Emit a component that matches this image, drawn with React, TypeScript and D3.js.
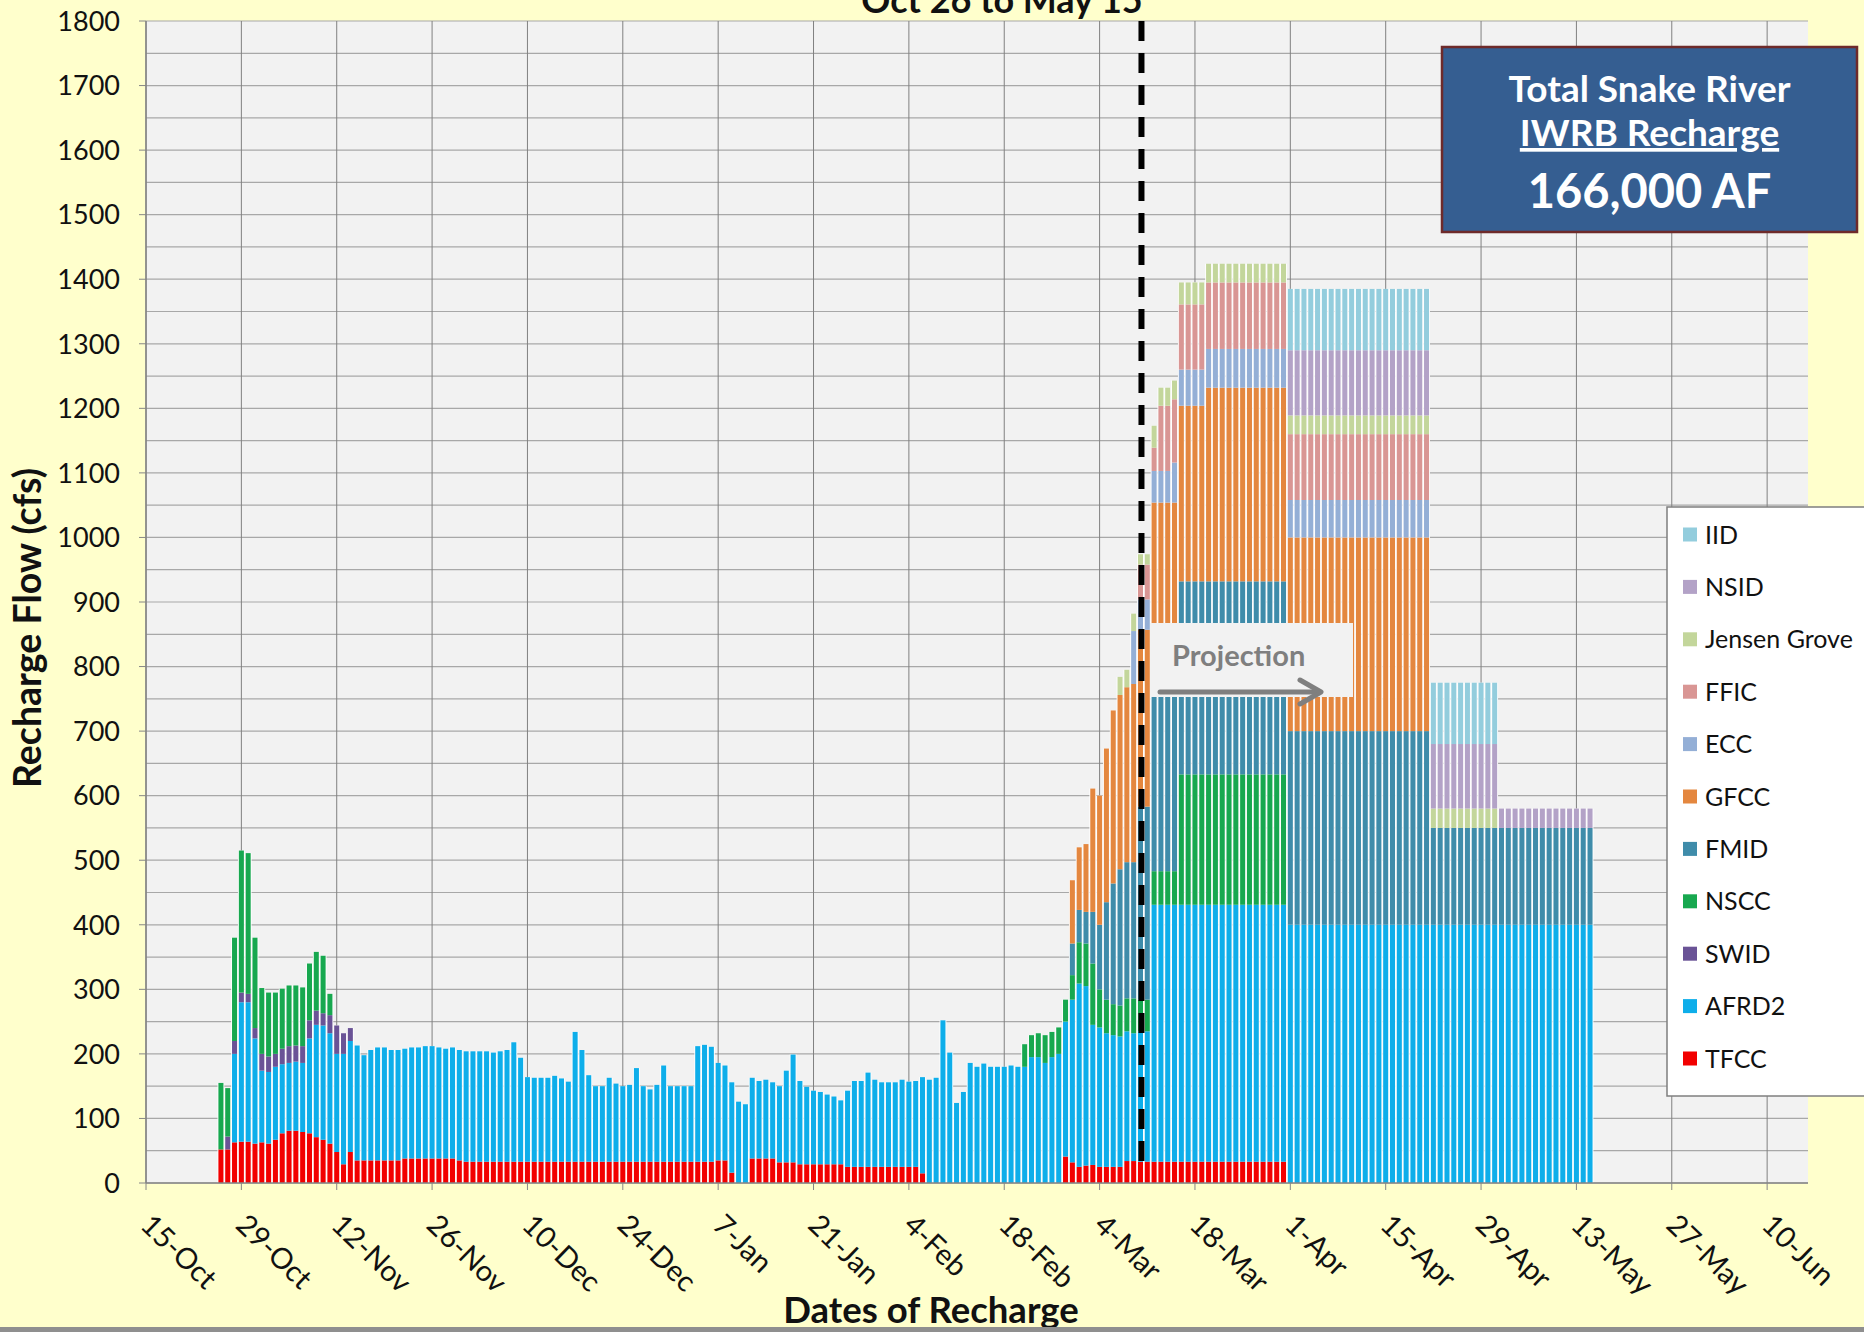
import React from 'react';
import * as d3 from 'd3';

// one entry per day starting 26-Oct; a plain number is one day, [days, value] is a run of equal days
type Run = number | [number, number];

const width = 1864;
const height = 1332;
const plotLeft = 146;
const plotRight = 1808;
const plotTop = 21;
const plotBottom = 1183;
const font = "Lato, 'Open Sans', sans-serif";

const firstDay = new Date(Date.UTC(2014, 9, 26));
const lastDay = new Date(Date.UTC(2015, 4, 15));
const axisStart = new Date(Date.UTC(2014, 9, 15));
const axisEnd = new Date(Date.UTC(2015, 5, 16));
const projectionDay = new Date(Date.UTC(2015, 2, 10));

const tickDates = [
  "2014-10-15", "2014-10-29", "2014-11-12", "2014-11-26", "2014-12-10", "2014-12-24",
  "2015-01-07", "2015-01-21", "2015-02-04", "2015-02-18", "2015-03-04", "2015-03-18",
  "2015-04-01", "2015-04-15", "2015-04-29", "2015-05-13", "2015-05-27", "2015-06-10",
];

const seriesNames = ["TFCC", "AFRD2", "SWID", "NSCC", "FMID", "GFCC", "ECC", "FFIC", "Jensen Grove", "NSID", "IID"];
const seriesColors = ["#F20000", "#0EAEEA", "#6A5396", "#17A84F", "#3F8CAA", "#E4873F", "#94AFD6", "#D99694", "#C3D69B", "#B3A2C7", "#93CDDD"];

const tfcc: Run[] = [52, 52, 63, 64, 64, 61, 63, 61, 67, 77, 81, 81, 79, 77, 71, 67, 61, 48, 29, 48,
  [7, 35], [8, 38], 35, [37, 33], [2, 35], 16, [2, 0], [4, 38], [3, 32], [7, 29], [11, 25], 15, [20, 0],
  41, 32, 25, 27, 28, [4, 25], [2, 34], [22, 33], [45, 0]];

const afrd2: Run[] = [0, 0, 137, 216, 216, 163, 111, 111, 113, 107, 105, 107, 107, 147, 174, 177, 171, 152, 171, 172,
  178, 163, 171, 175, 175, 171, 171,
  170, 172, 172, 174, 174, 172, 170, 172,
  171,
  171, 171, 171, 171, 169, 171, 173, 185, 161, 131, 130, 130, 130, 133,
  129, 124, 201, 173, 134, 117, 117, 130, 121, 117, 119, 145, 117, 112, 119, 149, 117,
  117, 117, 117, 179, 181, 178, 151, 147, 140, 126, 122, 125, 120, 122, 118, 118, 142, 167, 129, 120,
  114, 112, 108, 105, 99, 118, 133, 133, 146, 135, 131,
  131, 131, 135, 132, 133, 149, 160, 163, 252, 202, 124,
  141, 186, 180, 185, 180, 180, 180, 182, 180, 180, 195, 195, 186, 195, 200, 209, 252,
  284, 278, 217, 216, 207, 204, 202, 201, 198, 202, 202,
  [20, 398], [45, 400]];

const swid: Run[] = [0, 20, 20, 15, 13, 16, 26, 24, 20, 24, 26, 25, 26, 28, 22, 19, 28, 44, 32, 20, [182, 0]];

const nscc: Run[] = [103, 75, 160, 220, 218, 140, 102, 99, 95, 93, 94, 93, 91, 88, 91, 89, 33, [101, 0],
  35, 34, 37, 43, 39, 41, 34, 38, 64, 66, 95, 59, 52, 48, 48, 51, 54, 49, 49,
  [4, 52], [16, 202], [45, 0]];

const fmid: Run[] = [[125, 0], 49, 50, 49, 80, 100, 151, 187, 211, 211, 211, 299, 299,
  [4, 271], [16, 299], [21, 300], [24, 150]];

const gfcc: Run[] = [[125, 0], 98, 97, 105, 191, 200, 238, 268, 270, 271, 276, 274, 274,
  [4, 300], [4, 272], [12, 300], [21, 300], [24, 0]];

const ecc: Run[] = [[134, 0], 82, 47, 47, 49, 49, 49, 62, [4, 56], [12, 60], [21, 58], [24, 0]];

const ffic: Run[] = [[135, 0], 54, 54, 36, 101, 101, 98, [4, 101], [12, 103], [21, 102], [24, 0]];

const jensenGrove: Run[] = [[132, 0], 28, 27, 27, 16, 16, 34, 28, 28, 29, [4, 34], [12, 29], [21, 29], [10, 30], [14, 0]];

const nsid: Run[] = [[157, 0], [21, 101], [10, 100], [14, 30]];

const iid: Run[] = [[157, 0], [21, 95], [10, 95], [14, 0]];

const seriesRuns = [tfcc, afrd2, swid, nscc, fmid, gfcc, ecc, ffic, jensenGrove, nsid, iid];

const expand = (runs: Run[]): number[] => {
  const out: number[] = [];
  runs.forEach(r => {
    if (Array.isArray(r)) for (let k = 0; k < r[0]; k++) out.push(r[1]);
    else out.push(r);
  });
  return out;
};

const App: React.FC = () => {
  const dates = d3.utcDay.range(firstDay, d3.utcDay.offset(lastDay, 1));
  const daily = seriesRuns.map(expand);
  const rows = dates.map((date, i) => {
    const row: any = {date};
    seriesNames.forEach((name, s) => { row[name] = daily[s][i] || 0; });
    return row;
  });
  const stacked = d3.stack<any>().keys(seriesNames)(rows);

  const xScale = d3.scaleUtc().domain([axisStart, axisEnd]).range([plotLeft, plotRight]);
  const yScale = d3.scaleLinear().domain([0, 1800]).range([plotBottom, plotTop]);
  const dayW = xScale(d3.utcDay.offset(axisStart, 1)) - xScale(axisStart);
  const barW = dayW * 0.74;

  const yLabelTicks = yScale.ticks(18);
  const yGridTicks = yScale.ticks(36);
  const ticks = tickDates.map(s => d3.utcParse("%Y-%m-%d")(s) as Date);
  const fmt = d3.utcFormat("%-d-%b");
  const totals = rows.map(r => d3.sum(seriesNames, n => r[n]));
  const projX = xScale(projectionDay) + 1;

  const legendItems = seriesNames.map((n, i) => ({name: n, color: seriesColors[i]})).reverse();
  const boxCx = 1649.5;

  return (
    <svg width={width} height={height} style={{position: "absolute", left: 0, top: 0, fontFamily: font}}>
      <rect width={width} height={height} fill="#FFFFCC"/>
      <rect x={plotLeft} y={plotTop} width={plotRight - plotLeft} height={plotBottom - plotTop} fill="#F2F2F2"/>

      {yGridTicks.map(v => (
        <line key={"h" + v} x1={plotLeft} x2={plotRight} y1={yScale(v)} y2={yScale(v)} stroke="#A8A8A8" strokeWidth={1.2}/>
      ))}
      {ticks.map((d, i) => (
        <line key={"v" + i} x1={xScale(d)} x2={xScale(d)} y1={plotTop} y2={plotBottom} stroke="#808080" strokeWidth={1}/>
      ))}

      {/* white slots behind each day's column */}
      {rows.map((r, i) => (
        totals[i] > 0 &&
        <rect key={"u" + i} x={xScale(r.date) - dayW / 2} width={dayW} y={yScale(totals[i])}
          height={yScale(0) - yScale(totals[i])} fill="#FFFFFF"/>
      ))}
      {stacked.map((layer, s) => (
        <g key={layer.key} fill={seriesColors[s]}>
          {layer.map((d, i) => (
            d[1] - d[0] > 0 &&
            <rect key={i} x={xScale(d.data.date) - barW / 2} width={barW} y={yScale(d[1])}
              height={yScale(d[0]) - yScale(d[1])}/>
          ))}
        </g>
      ))}

      {/* axes */}
      <line x1={plotLeft} x2={plotRight} y1={plotBottom} y2={plotBottom} stroke="#868686" strokeWidth={1.5}/>
      <line x1={plotLeft} x2={plotLeft} y1={plotTop} y2={plotBottom} stroke="#868686" strokeWidth={1.5}/>
      {yLabelTicks.map(v => (
        <g key={"y" + v} transform={`translate(0, ${yScale(v)})`}>
          <line x1={plotLeft - 7} x2={plotLeft} stroke="#868686"/>
          <text x={120} dy="0.36em" textAnchor="end" fontSize={27} fill="#111">{v}</text>
        </g>
      ))}
      {ticks.map((d, i) => (
        <g key={"x" + i}>
          <line x1={xScale(d)} x2={xScale(d)} y1={plotBottom} y2={plotBottom + 7} stroke="#868686"/>
          <text transform={`translate(${xScale(d) - 7}, ${plotBottom + 44}) rotate(44)`} fontSize={29} fill="#111">{fmt(d)}</text>
        </g>
      ))}

      {/* projection divider */}
      <line x1={projX} x2={projX} y1={plotTop} y2={1172} stroke="#000" strokeWidth={6} strokeDasharray="20 12"/>

      <rect x={1150} y={623} width={203} height={74} fill="#F2F2F2"/>
      <text x={1172} y={666} fontSize={29} fontWeight="bold" fill="#7F7F7F">Projection</text>
      <g stroke="#7F7F7F" strokeWidth={5} fill="none" strokeLinecap="round">
        <line x1={1160} x2={1319} y1={692} y2={692}/>
        <polyline points="1300,680 1321,692 1300,704" strokeLinejoin="round"/>
      </g>

      {/* titles */}
      <text x={1002} y={12.5} textAnchor="middle" fontSize={36} fontWeight="bold" fill="#111">Oct 26 to May 15</text>
      <text transform="translate(41, 628) rotate(-90)" textAnchor="middle" fontSize={37.5} fontWeight="bold" fill="#111">Recharge Flow (cfs)</text>
      <text x={931} y={1323} textAnchor="middle" fontSize={36.5} fontWeight="bold" fill="#111">Dates of Recharge</text>

      {/* total box */}
      <rect x={1442} y={47} width={415} height={185} fill="#355E91" stroke="#6E2A2A" strokeWidth={2.5}/>
      <text x={boxCx} y={102} textAnchor="middle" fontSize={37} fontWeight="bold" fill="#FFFFFF">Total Snake River</text>
      <text x={boxCx} y={146} textAnchor="middle" fontSize={37} fontWeight="bold" fill="#FFFFFF" style={{textDecoration: "underline"}}>IWRB Recharge</text>
      <text x={boxCx} y={208} textAnchor="middle" fontSize={47} fontWeight="bold" fill="#FFFFFF">166,000 AF</text>

      {/* legend */}
      <rect x={1667} y={507} width={220} height={589} fill="#FFFFFF" stroke="#7F7F7F" strokeWidth={1.5}/>
      {legendItems.map((it, i) => (
        <g key={it.name} transform={`translate(1683, ${534.5 + i * 52.4})`}>
          <rect x={0} y={-7} width={14} height={14} fill={it.color}/>
          <text x={22} dy="0.36em" fontSize={25} fill="#111">{it.name}</text>
        </g>
      ))}

      <rect x={0} y={1327} width={width} height={5} fill="#8F8F8F"/>
    </svg>
  );
};

export default App;
